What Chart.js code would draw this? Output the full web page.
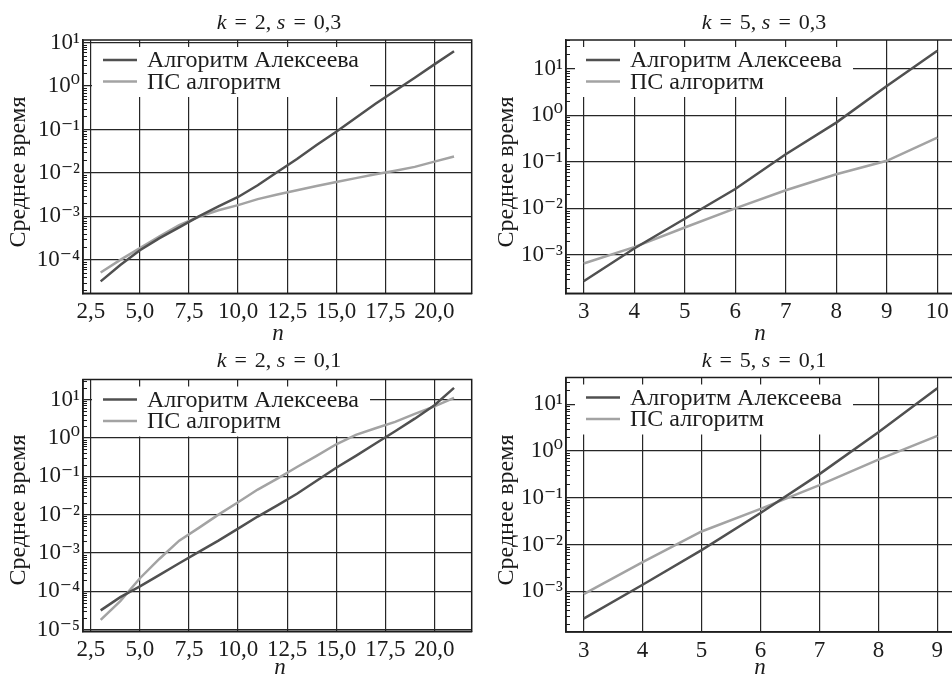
<!DOCTYPE html>
<html>
<head>
<meta charset="utf-8">
<script src="https://cdn.jsdelivr.net/npm/chart.js@4.4.1/dist/chart.umd.min.js"></script>
<style>
body{margin:0;background:#fff;}
#wrap{position:relative;width:952px;height:676px;overflow:hidden;background:#fff;font-family:'Liberation Serif','Times New Roman',serif;color:#1a1a1a;}
canvas{position:absolute;}
.ttl{position:absolute;font-size:22px;line-height:1;white-space:nowrap;transform:translateX(-50%);}
.ttl .eq{margin:0 8px;}
.xl{position:absolute;font-size:23px;line-height:1;font-style:italic;transform:translateX(-50%);}
.yl{position:absolute;font-size:24px;line-height:1;white-space:nowrap;transform:translate(-50%,-50%) rotate(-90deg);}
</style>
</head>
<body>
<div id="wrap">
  <canvas id="c1" width="476" height="338" style="left:0;top:0"></canvas>
  <canvas id="c2" width="490" height="338" style="left:476px;top:0"></canvas>
  <canvas id="c3" width="476" height="338" style="left:0;top:338px"></canvas>
  <canvas id="c4" width="490" height="338" style="left:476px;top:338px"></canvas>

  <div class="ttl" style="left:279px;top:11px"><i>k</i><span class="eq">=</span>2, <i>s</i><span class="eq">=</span>0,3</div>
  <div class="ttl" style="left:764px;top:11px"><i>k</i><span class="eq">=</span>5, <i>s</i><span class="eq">=</span>0,3</div>
  <div class="ttl" style="left:279px;top:349px"><i>k</i><span class="eq">=</span>2, <i>s</i><span class="eq">=</span>0,1</div>
  <div class="ttl" style="left:764px;top:349px"><i>k</i><span class="eq">=</span>5, <i>s</i><span class="eq">=</span>0,1</div>

  <div class="xl" style="left:278px;top:321px">n</div>
  <div class="xl" style="left:760px;top:321px">n</div>
  <div class="xl" style="left:280px;top:655px">n</div>
  <div class="xl" style="left:760px;top:655px">n</div>

  <div class="yl" style="left:17px;top:172px">Среднее время</div>
  <div class="yl" style="left:505px;top:172px">Среднее время</div>
  <div class="yl" style="left:17px;top:510px">Среднее время</div>
  <div class="yl" style="left:505px;top:510px">Среднее время</div>
</div>
<script>
// n values
var nLong = [3,4,5,6,7,8,9,10,11,12,13,14,15,16,17,18,19,20,21];
var nK5s03 = [3,4,5,6,7,8,9,10];
var nK5s01 = [3,4,5,6,7,8,9];

// k = 2, s = 0,3
var alekK2s03 = [3.2e-5,7.6e-5,1.66e-4,3.16e-4,5.6e-4,1.0e-3,1.7e-3,2.8e-3,5.2e-3,1.05e-2,2.1e-2,4.4e-2,8.9e-2,0.186,0.39,0.78,1.55,3.16,6.3];
var psK2s03 = [5.1e-5,1.0e-4,1.86e-4,3.5e-4,6.3e-4,9.8e-4,1.38e-3,1.82e-3,2.5e-3,3.2e-3,4.0e-3,5.0e-3,6.2e-3,7.6e-3,9.3e-3,1.12e-2,1.38e-2,1.82e-2,2.4e-2];
// k = 5, s = 0,3
var alekK5s03 = [2.75e-4,1.38e-3,6.0e-3,2.6e-2,0.145,0.69,4.2,24];
var psK5s03 = [6.6e-4,1.48e-3,3.9e-3,1.0e-2,2.45e-2,5.4e-2,0.105,0.33];
// k = 2, s = 0,1
var alekK2s01 = [3.2e-5,7.1e-5,1.35e-4,2.7e-4,5.4e-4,1.07e-3,2.1e-3,4.3e-3,8.9e-3,1.74e-2,3.5e-2,7.6e-2,0.166,0.34,0.71,1.48,3.16,7.1,20];
var psK2s01 = [1.8e-5,5.6e-5,2.2e-4,7.1e-4,2.1e-3,4.5e-3,1.0e-2,2.1e-2,4.5e-2,8.7e-2,0.174,0.34,0.68,1.2,1.78,2.6,4.2,6.6,11];
// k = 5, s = 0,1
var alekK5s01 = [2.6e-4,1.38e-3,7.6e-3,4.7e-2,0.32,2.5,22];
var psK5s01 = [8.7e-4,4.2e-3,1.9e-2,5.8e-2,0.186,0.65,2.1];

// tick labels
var xTicksLong = [2.5,5,7.5,10,12.5,15,17.5,20];
var xLabelsLong = ['2,5','5,0','7,5','10,0','12,5','15,0','17,5','20,0'];
var xTicksK5s03 = [3,4,5,6,7,8,9,10];
var xLabelsK5s03 = ['3','4','5','6','7','8','9','10'];
var xTicksK5s01 = [3,4,5,6,7,8,9];
var xLabelsK5s01 = ['3','4','5','6','7','8','9'];
var yTicks = [1e-5,1e-4,1e-3,1e-2,1e-1,1,10];
var yLabels = ['10\u207B\u2075','10\u207B\u2074','10\u207B\u00B3','10\u207B\u00B2','10\u207B\u00B9','10\u2070','10\u00B9'];

var seriesNames = ['Алгоритм Алексеева','ПС алгоритм'];
var darkCol = '#505050';
var lightCol = '#a3a3a3';
var inkCol = '#1c1c1c';
var serif = "'Liberation Serif', 'DejaVu Serif', serif";

// legend box, frame and minor log ticks
var decor = {
	id: 'decor',
	beforeDatasetsDraw: function(chart){
		var a = chart.chartArea, ctx = chart.ctx;
		ctx.save();
		ctx.font = '24px ' + serif;
		var w = 0;
		chart.data.datasets.forEach(function(d){ w = Math.max(w, ctx.measureText(d.label).width); });
		ctx.fillStyle = '#fff';
		ctx.fillRect(a.left + 9, a.top + 7, w + 66, 50);
		chart.data.datasets.forEach(function(d, i){
			var y = a.top + 20 + i * 21.5;
			ctx.strokeStyle = d.borderColor;
			ctx.lineWidth = d.borderWidth;
			ctx.beginPath(); ctx.moveTo(a.left + 20, y); ctx.lineTo(a.left + 54, y); ctx.stroke();
			ctx.fillStyle = inkCol;
			ctx.textBaseline = 'middle';
			ctx.fillText(d.label, a.left + 64, y + 1);
		});
		// minor ticks on the left spine
		var ys = chart.scales.y;
		ctx.strokeStyle = inkCol;
		ctx.lineWidth = 1;
		var lo = Math.floor(Math.log10(ys.min)), hi = Math.ceil(Math.log10(ys.max));
		for (var d = lo; d <= hi; d++) {
			for (var m = 2; m <= 9; m++) {
				var v = m * Math.pow(10, d);
				if (v < ys.min || v > ys.max) continue;
				var py = Math.round(ys.getPixelForValue(v)) + 0.5;
				ctx.beginPath(); ctx.moveTo(a.left, py); ctx.lineTo(a.left + 4, py); ctx.stroke();
			}
		}
		ctx.lineWidth = 1.5;
		ctx.strokeRect(a.left, a.top, a.right - a.left, a.bottom - a.top);
		ctx.restore();
	}
};

function makePanel(id, n, alek, ps, xTicks, xLabels, xr, yr, area, W, H){
	var ctx = document.getElementById(id);
	return new Chart(ctx, {
		type: 'line',
		data: {
			datasets: [
				{ label: seriesNames[0], data: n.map(function(x, i){ return {x: x, y: alek[i]}; }),
				  borderColor: darkCol, borderWidth: 2.5, pointRadius: 0, fill: false, tension: 0 },
				{ label: seriesNames[1], data: n.map(function(x, i){ return {x: x, y: ps[i]}; }),
				  borderColor: lightCol, borderWidth: 2.5, pointRadius: 0, fill: false, tension: 0 }
			]
		},
		options: {
			responsive: false,
			animation: false,
			devicePixelRatio: 1,
			layout: { padding: { left: 0, top: area.top, right: W - area.right, bottom: 0 } },
			plugins: { legend: { display: false }, tooltip: { enabled: false }, title: { display: false } },
			scales: {
				x: {
					type: 'linear', min: xr[0], max: xr[1],
					afterBuildTicks: function(s){ s.ticks = xTicks.map(function(v){ return {value: v}; }); },
					afterFit: function(s){ s.height = H - area.bottom; s.paddingLeft = 0; s.paddingRight = 0; },
					ticks: {
						autoSkip: false, maxRotation: 0, padding: 5, color: inkCol,
						font: { family: serif, size: 23 },
						callback: function(v){ var i = xTicks.indexOf(v); return i < 0 ? '' : xLabels[i]; }
					},
					grid: { color: '#262626', lineWidth: 1.2, drawTicks: false },
					border: { color: '#262626', width: 1.5 }
				},
				y: {
					type: 'logarithmic', min: Math.pow(10, yr[0]), max: Math.pow(10, yr[1]),
					afterBuildTicks: function(s){
						s.ticks = yTicks.filter(function(v){ return v >= s.min && v <= s.max; }).map(function(v){ return {value: v}; });
					},
					afterFit: function(s){ s.width = area.left; s.paddingTop = 0; s.paddingBottom = 0; },
					ticks: {
						autoSkip: false, padding: 3, color: inkCol,
						font: { family: serif, size: 23 },
						callback: function(v){ var i = yTicks.indexOf(v); return i < 0 ? '' : yLabels[i]; }
					},
					grid: { color: '#262626', lineWidth: 1.2, drawTicks: false },
					border: { color: '#262626', width: 1.5 }
				}
			}
		},
		plugins: [decor]
	});
}

makePanel('c1', nLong, alekK2s03, psK2s03, xTicksLong, xLabelsLong, [2.1, 21.9], [-4.77, 1.06],
	{left: 83, top: 40, right: 471.7, bottom: 293.3}, 476, 338);
makePanel('c2', nK5s03, alekK5s03, psK5s03, xTicksK5s03, xLabelsK5s03, [2.65, 10.35], [-3.82, 1.61],
	{left: 90, top: 40, right: 479, bottom: 293.3}, 490, 338);
makePanel('c3', nLong, alekK2s01, psK2s01, xTicksLong, xLabelsLong, [2.1, 21.9], [-5.04, 1.52],
	{left: 83, top: 41.5, right: 471.7, bottom: 293.3}, 476, 338);
makePanel('c4', nK5s01, alekK5s01, psK5s01, xTicksK5s01, xLabelsK5s01, [2.7, 9.3], [-3.87, 1.57],
	{left: 90, top: 39.5, right: 479, bottom: 294}, 490, 338);
</script>
</body>
</html>
